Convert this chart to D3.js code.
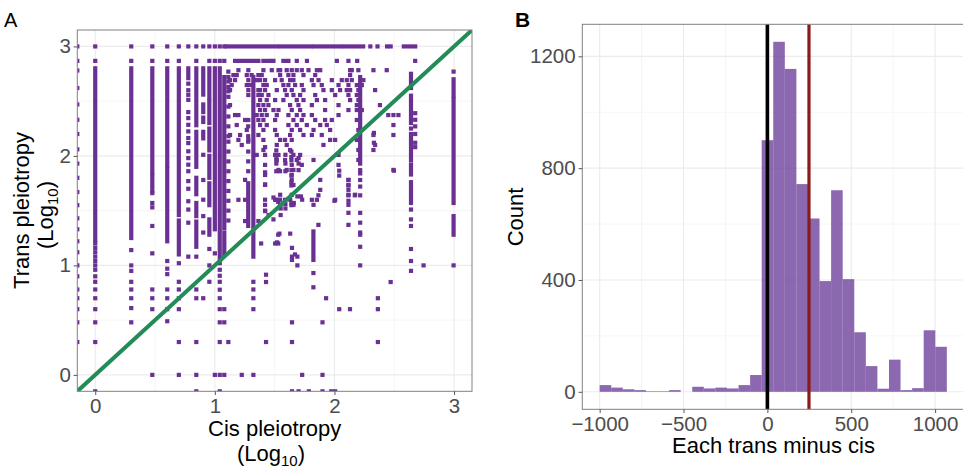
<!DOCTYPE html>
<html><head><meta charset="utf-8">
<script src="https://cdn.jsdelivr.net/npm/d3@7"></script>
<style>
body{margin:0;background:#fff}
svg{display:block}
text{font-family:"Liberation Sans",Arial,Helvetica,sans-serif}
</style>
</head><body>
<svg id="chart" width="963" height="469"></svg>
<script>
// ---------------- Panel A data (log10 values) ----------------
const cisTicks = [0, 1, 2, 3];
const transTicks = [0, 1, 2, 3];
const ablineIntercept = 0, ablineSlope = 1;

// vertical runs of dense points: [cis, transFrom, transTo]
const verticalRuns = [
  [0,1.23,2.80],[0.301,1.25,2.80],[0.477,1.85,2.80],[0.477,1.68,1.82],
  [0.602,1.91,2.80],[0.602,1.22,1.88],[0.699,1.46,2.80],[0.699,1.10,1.41],
  [0.778,2.71,2.80],[0.845,2.28,2.80],[0.845,1.90,2.22],[0.845,1.65,1.80],
  [0.845,1.45,1.57],[0.845,1.17,1.40],[0.903,2.56,2.80],[0.903,2.40,2.47],
  [0.903,2.31,2.35],[0.903,2.16,2.22],[0.954,2.53,2.80],[0.954,2.30,2.50],
  [0.954,2.05,2.25],[0.954,1.80,2.0],[0.954,1.55,1.75],[0.954,1.28,1.42],
  [1.0,1.33,2.80],[1.041,1.06,2.80],[1.079,1.34,2.72],[1.079,1.10,1.30],
  [1.279,1.36,1.75],[1.322,1.08,2.72],[1.824,1.05,1.31],[2.215,1.93,2.72],
  [2.64,2.62,2.75],[2.64,2.30,2.55],[2.64,1.96,2.20],[2.64,1.83,1.92],
  [2.64,1.57,1.76],[2.996,2.55,2.70],[2.996,1.57,2.52],[2.996,1.28,1.45]
];
// horizontal runs of dense points: [trans, cisFrom, cisTo]
const horizontalRuns = [
  [3.0,1.10,1.52],[3.0,1.55,1.80],[3.0,1.83,2.05],[3.0,2.08,2.24],[3.0,2.58,2.675],
  [2.868,1.169,1.364],[2.868,1.406,1.462],[2.868,1.573,1.615]
];
// single points grouped by cis value: [cis, [trans...]]
const pointsByCis = [
  [-0.15,[3.0,2.868,2.78,2.62,2.47,2.33,2.2,2.06,1.93,1.8,1.67,1.55,1.43,1.33,1.22,1.12,1.0,0.9,0.78,0.7,0.6,0.48,0.3]],
  [0,[3.0,2.868,1.20,1.16,1.12,1.08,1.04,1.0,0.96,0.90,0.85,0.78,0.70,0.60,0.48,0.30,-0.15]],
  [0.301,[3.0,2.868,1.14,1.0,0.95,0.85,0.78,0.70,0.61,0.48]],
  [0.477,[3.0,2.868,1.66,1.57,1.53,1.36,1.11,0.78,0.70,0.60,0.0]],
  [0.602,[3.0,2.868,1.04,0.97,0.92,0.78,0.70,0.60,0.49]],
  [0.699,[3.0,2.868,1.02,0.85,0.78,0.70,0.60,0.30,0.0]],
  [0.778,[3.0,2.66,2.60,2.558,2.512,2.40,2.345,2.284,2.224,2.163,2.117,2.042,1.98,1.92,1.86,1.77,1.70,1.586,1.51,1.39,1.08]],
  [0.845,[3.0,2.868,1.08,0.78,0.70,0.30,0.0,-0.15]],
  [0.903,[3.0,2.01,1.78,1.60,1.45,1.30,0.70]],
  [0.954,[3.0,2.868,1.15,1.0,0.85]],
  [1.0,[3.0,2.868,1.11,0.0]],
  [1.041,[3.0,2.868,1.02,0.96,0.905,0.85,0.778,0.70,0.60,0.48,0.30,0.0,-0.15]],
  [1.079,[3.0,2.868,0.60,0.48,0.0]],
  [1.113,[2.77,2.72,2.68,2.63,2.59,2.54,2.45,2.36,2.27,2.18,2.13,2.04,1.95,1.86,1.77,1.68,1.59,1.50,1.41,0.30]],
  [1.225,[0.0]],
  [1.279,[2.27,2.18,2.13,2.04,1.95,1.86]],
  [1.322,[0.85,0.78,0.70,0.60,0.0]],
  [1.387,[1.20]],
  [1.42,[2.08,1.85,1.74,1.60,1.50]],
  [1.428,[0.915,0.848,0.30]],
  [1.45,[1.46]],
  [1.49,[1.62,1.42]],
  [1.504,[1.20]],
  [1.514,[2.05,1.97,1.93,1.86,1.60]],
  [1.52,[1.21]],
  [1.53,[1.28,1.20,1.58]],
  [1.54,[1.29]],
  [1.545,[1.86,1.60]],
  [1.55,[1.52,1.46]],
  [1.59,[2.01,1.93,1.86,1.52,1.56]],
  [1.63,[1.29,1.60]],
  [1.64,[2.04,1.99,1.96,1.87,1.82,1.76,1.73,1.57,1.55]],
  [1.645,[1.16,1.08,1.05,0.48,0.30,-0.15]],
  [1.66,[1.57]],
  [1.67,[1.10]],
  [1.69,[1.08,1.0,1.63]],
  [1.70,[1.98,1.93,1.87,-0.15]],
  [1.72,[1.63]],
  [1.73,[0.0,1.60]],
  [1.786,[-0.15]],
  [1.824,[0.93,0.80]],
  [1.866,[1.64,1.37]],
  [1.90,[0.48,0.0,-0.15]],
  [1.93,[0.70]],
  [1.973,[-0.15]],
  [2.0,[1.59]],
  [2.006,[-0.15]],
  [2.04,[1.865,1.82,0.60]],
  [2.117,[1.78,1.73,1.64,1.59,1.48,1.37]],
  [2.13,[0.60]],
  [2.17,[1.64]],
  [2.215,[1.87,1.84,1.78,1.72,1.64,1.48,1.39,1.30,1.28,1.17,1.0]],
  [2.33,[2.21,2.12]],
  [2.363,[0.70,0.60,0.30]],
  [2.47,[0.848]],
  [2.497,[1.865]],
  [2.64,[2.25,1.51,1.42,1.36,1.15,1.04,0.95]],
  [2.675,[2.39,2.33,2.27,2.20,2.12,2.08]],
  [2.745,[1.0]],
  [2.996,[2.77,1.0]]
];
// single points grouped by trans value: [trans, [cis...]]
const pointsByTrans = [
  [3.0,[2.30,2.36,2.44,2.47]],
  [2.868,[1.49,1.685,1.77,2.02,2.117,2.19,2.675]],
  [2.783,[1.197,1.28,1.406,1.476,1.532,1.546,1.601,1.643,1.685,1.727,1.783,1.853,1.881,2.131,2.145,2.2,2.326,2.437]],
  [2.738,[1.155,1.183,1.267,1.308,1.364,1.392,1.546,1.615,1.657,1.741,1.839,2.131]],
  [2.692,[1.127,1.169,1.28,1.35,1.378,1.42,1.504,1.559,1.629,1.657,1.811,1.867,1.978,2.061,2.103,2.145,2.242]],
  [2.647,[1.141,1.267,1.294,1.406,1.434,1.573,1.615,1.671,1.727,1.825,1.894,2.034,2.117,2.187,2.229]],
  [2.601,[1.127,1.28,1.364,1.378,1.42,1.518,1.587,1.643,1.741,1.908,1.978,2.047,2.103,2.131,2.2,2.34]],
  [2.556,[1.28,1.364,1.392,1.448,1.601,1.657,1.713,1.839,2.006,2.117,2.187]],
  [2.51,[1.378,1.434,1.504,1.573,1.685,1.741,1.853,1.922,2.131,2.2]],
  [2.464,[1.127,1.364,1.406,1.448,1.629,1.699,1.811,2.034,2.187,2.38]],
  [2.419,[1.378,1.42,1.49,1.532,1.643,1.713,1.922,2.117,2.187,2.229]],
  [2.373,[1.169,1.197,1.35,1.392,1.434,1.518,1.615,1.685,1.741,1.811,2.034,2.45,2.493,2.535]],
  [2.328,[1.253,1.28,1.364,1.406,1.504,1.657,1.727,1.839,1.922,1.978,2.187]],
  [2.282,[1.183,1.378,1.434,1.615,1.685,1.769,1.881,1.936,2.493]],
  [2.237,[1.267,1.406,1.504,1.643,1.713,1.825,1.964,2.2]],
  [2.191,[1.127,1.211,1.364,1.518,1.629,1.741,1.811,1.894,2.326,2.493]],
  [2.146,[1.197,1.28,1.406,1.546,1.587,1.643,1.964,2.006,2.187]],
  [2.1,[1.225,1.518,1.601,1.908,2.34]],
  [2.054,[1.406,1.629,2.2,2.326]],
  [2.009,[1.35,1.42,1.504,1.532,1.657,1.713,2.034]],
  [1.963,[1.518,1.587,1.685,1.825,2.2]],
  [1.918,[1.42,1.643,1.727,2.034]],
  [1.872,[1.532,1.601,1.657,2.493]],
  [1.826,[1.42,1.643]],
  [1.781,[1.253,1.643,1.881,2.117]],
  [1.735,[1.42,1.657,2.117]],
  [1.69,[1.881,2.117]],
  [1.645,[1.546,1.643,2.117,2.173]],
  [1.599,[1.197,1.253,1.504,1.587,1.811,1.853,2.006]],
  [1.553,[1.42,1.546,1.657,1.825,2.117]],
  [1.496,[1.42]],
  [1.405,[1.253,1.364]]
];

// ---------------- Panel B data ----------------
const histCounts = [24,15,9,6,2,2,6,0,18,12,15,12,24,60,900,1252,1155,743,620,396,721,403,213,92,11,115,6,13,220,161];
const binStart = -1000, binWidth = 69;
const diffTicks = [-1000, -500, 0, 500, 1000];
const diffMinor = [-750, -250, 250, 750];
const countTicks = [0, 400, 800, 1200];
const countMinor = [200, 600, 1000];
const zeroLine = 0, meanLine = 248;

// ---------------- drawing ----------------
const svg = d3.select("#chart");
const ptColor = "#6a3093";
const tickCol = "#4d4d4d";

// ===== Panel A =====
const A = {l:77.3, r:472, t:30, b:391.3};
const xA = d3.scaleLinear().domain([-0.15,3.15]).range([A.l,A.r]);
const yA = d3.scaleLinear().domain([-0.15,3.15]).range([A.b,A.t]);
const gA = svg.append("g");
gA.append("rect").attr("x",A.l).attr("y",A.t).attr("width",A.r-A.l).attr("height",A.b-A.t).attr("fill","#fff");
const minorA = [0.5,1.5,2.5];
gA.selectAll(".vmin").data(minorA).join("line").attr("x1",d=>xA(d)).attr("x2",d=>xA(d)).attr("y1",A.t).attr("y2",A.b).attr("stroke","#f3f3f3").attr("stroke-width",0.8);
gA.selectAll(".hmin").data(minorA).join("line").attr("y1",d=>yA(d)).attr("y2",d=>yA(d)).attr("x1",A.l).attr("x2",A.r).attr("stroke","#f3f3f3").attr("stroke-width",0.8);
gA.selectAll(".vmaj").data(cisTicks).join("line").attr("x1",d=>xA(d)).attr("x2",d=>xA(d)).attr("y1",A.t).attr("y2",A.b).attr("stroke","#ebebeb").attr("stroke-width",1.1);
gA.selectAll(".hmaj").data(transTicks).join("line").attr("y1",d=>yA(d)).attr("y2",d=>yA(d)).attr("x1",A.l).attr("x2",A.r).attr("stroke","#ebebeb").attr("stroke-width",1.1);

svg.append("defs").append("clipPath").attr("id","clipA").append("rect")
  .attr("x",A.l).attr("y",A.t).attr("width",A.r-A.l).attr("height",A.b-A.t);
const pA = gA.append("g").attr("clip-path","url(#clipA)");
const s = 4.2, h = s/2;
pA.selectAll(".vr").data(verticalRuns).join("rect")
  .attr("x",d=>xA(d[0])-h).attr("y",d=>yA(d[2])-h).attr("width",s)
  .attr("height",d=>yA(d[1])-yA(d[2])+s).attr("fill",ptColor);
pA.selectAll(".hr").data(horizontalRuns).join("rect")
  .attr("x",d=>xA(d[1])-h).attr("y",d=>yA(d[0])-h).attr("height",s)
  .attr("width",d=>xA(d[2])-xA(d[1])+s).attr("fill",ptColor);
const singles = [];
pointsByCis.forEach(([c,ts])=>ts.forEach(t=>singles.push([c,t])));
pointsByTrans.forEach(([t,cs])=>cs.forEach(c=>singles.push([c,t])));
pA.selectAll(".pt").data(singles).join("rect")
  .attr("x",d=>xA(d[0])-h).attr("y",d=>yA(d[1])-h).attr("width",s).attr("height",s).attr("fill",ptColor);
const dom = xA.domain();
const diag = dom.map(x=>[x, ablineIntercept+ablineSlope*x]);
pA.append("path").attr("d",d3.line().x(d=>xA(d[0])).y(d=>yA(d[1]))(diag))
  .attr("stroke","#238b57").attr("stroke-width",4).attr("fill","none");
gA.append("rect").attr("x",A.l).attr("y",A.t).attr("width",A.r-A.l).attr("height",A.b-A.t)
  .attr("fill","none").attr("stroke","#808080").attr("stroke-width",1);

function styleAxis(g){
  g.select(".domain").remove();
  g.selectAll(".tick line").attr("stroke","#555").attr("stroke-width",1);
  g.selectAll(".tick text").attr("fill",tickCol).attr("font-size","20.5px")
   .attr("font-family","'Liberation Sans',Arial,sans-serif");
}
svg.append("g").attr("transform",`translate(0,${A.b})`)
  .call(d3.axisBottom(xA).tickValues(cisTicks).tickSize(3.7).tickPadding(3).tickFormat(d3.format("d"))).call(styleAxis);
svg.append("g").attr("transform",`translate(${A.l},0)`)
  .call(d3.axisLeft(yA).tickValues(transTicks).tickSize(3.7).tickPadding(2.6).tickFormat(d3.format("d"))).call(styleAxis);

// titles A
svg.append("text").attr("x",274.7).attr("y",436).attr("text-anchor","middle").attr("font-size","22px").text("Cis pleiotropy");
const tA2 = svg.append("text").attr("x",271).attr("y",460.5).attr("text-anchor","middle").attr("font-size","22px");
tA2.append("tspan").text("(Log");
tA2.append("tspan").attr("dy",5).attr("font-size","15px").text("10");
tA2.append("tspan").attr("dy",-5).text(")");
svg.append("text").attr("transform","translate(29,210.5) rotate(-90)").attr("text-anchor","middle").attr("font-size","22px").text("Trans pleiotropy");
const tA4 = svg.append("text").attr("transform","translate(52.5,215) rotate(-90)").attr("text-anchor","middle").attr("font-size","22px");
tA4.append("tspan").text("(Log");
tA4.append("tspan").attr("dy",5).attr("font-size","15px").text("10");
tA4.append("tspan").attr("dy",-5).text(")");
svg.append("text").attr("x",4).attr("y",26.5).attr("font-size","20px").text("A");

// ===== Panel B =====
const B = {l:582.3, r:964.2, t:24.3, b:409.3};
const maxC = d3.max(histCounts);
const binEnd = binStart + binWidth*histCounts.length;
const span = binEnd - binStart;
const xB = d3.scaleLinear().domain([binStart-0.05*span, binEnd+0.05*span]).range([B.l,B.r]);
const yB = d3.scaleLinear().domain([-0.05*maxC, 1.05*maxC]).range([B.b,B.t]);
const gB = svg.append("g");
gB.selectAll(".vmin").data(diffMinor).join("line").attr("x1",d=>xB(d)).attr("x2",d=>xB(d)).attr("y1",B.t).attr("y2",B.b).attr("stroke","#f3f3f3").attr("stroke-width",0.8);
gB.selectAll(".hmin").data(countMinor).join("line").attr("y1",d=>yB(d)).attr("y2",d=>yB(d)).attr("x1",B.l).attr("x2",B.r).attr("stroke","#f3f3f3").attr("stroke-width",0.8);
gB.selectAll(".vmaj").data(diffTicks).join("line").attr("x1",d=>xB(d)).attr("x2",d=>xB(d)).attr("y1",B.t).attr("y2",B.b).attr("stroke","#ebebeb").attr("stroke-width",1.1);
gB.selectAll(".hmaj").data(countTicks).join("line").attr("y1",d=>yB(d)).attr("y2",d=>yB(d)).attr("x1",B.l).attr("x2",B.r).attr("stroke","#ebebeb").attr("stroke-width",1.1);
const bins = histCounts.map((c,i)=>({x0:binStart+i*binWidth, x1:binStart+(i+1)*binWidth, c}));
gB.selectAll(".bar").data(bins.filter(d=>d.c>0)).join("rect")
  .attr("x",d=>xB(d.x0)).attr("width",d=>xB(d.x1)-xB(d.x0))
  .attr("y",d=>yB(d.c)).attr("height",d=>yB(0)-yB(d.c))
  .attr("fill","#6a3d9a").attr("fill-opacity",0.78);
gB.append("line").attr("x1",xB(zeroLine)).attr("x2",xB(zeroLine)).attr("y1",B.t).attr("y2",B.b).attr("stroke","#000").attr("stroke-width",3.6);
gB.append("line").attr("x1",xB(meanLine)).attr("x2",xB(meanLine)).attr("y1",B.t).attr("y2",B.b).attr("stroke","#8b1a1a").attr("stroke-width",3.2);
gB.append("rect").attr("x",B.l).attr("y",B.t).attr("width",B.r-B.l).attr("height",B.b-B.t)
  .attr("fill","none").attr("stroke","#808080").attr("stroke-width",1);
const fmtMinus = d => (d<0 ? "\u2212"+Math.abs(d) : String(d));
svg.append("g").attr("transform",`translate(0,${B.b})`)
  .call(d3.axisBottom(xB).tickValues(diffTicks).tickSize(3.7).tickPadding(3).tickFormat(fmtMinus)).call(styleAxis);
svg.append("g").attr("transform",`translate(${B.l},0)`)
  .call(d3.axisLeft(yB).tickValues(countTicks).tickSize(3.7).tickPadding(3).tickFormat(fmtMinus)).call(styleAxis);
svg.append("text").attr("x",773.5).attr("y",453).attr("text-anchor","middle").attr("font-size","22px").text("Each trans minus cis");
svg.append("text").attr("transform","translate(522.7,217) rotate(-90)").attr("text-anchor","middle").attr("font-size","22px").text("Count");
svg.append("text").attr("x",515).attr("y",26.5).attr("font-size","21px").attr("font-weight","600")
  .attr("font-family","'Open Sans',sans-serif").text("B");
</script>
</body></html>
